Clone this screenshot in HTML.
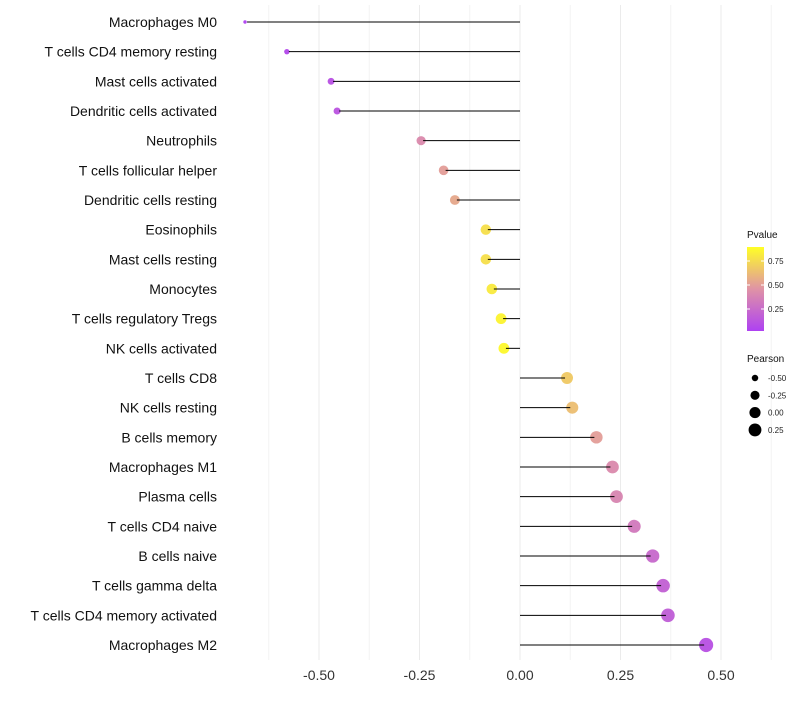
<!DOCTYPE html>
<html><head><meta charset="utf-8"><style>
body{margin:0;background:#fff;font-family:"Liberation Sans",sans-serif}
svg text{font-family:"Liberation Sans",sans-serif}
</style></head><body>
<svg id="c" width="800" height="700"></svg>
<script>
const categories=["Macrophages M0","T cells CD4 memory resting","Mast cells activated","Dendritic cells activated","Neutrophils","T cells follicular helper","Dendritic cells resting","Eosinophils","Mast cells resting","Monocytes","T cells regulatory  Tregs ","NK cells activated","T cells CD8","NK cells resting","B cells memory","Macrophages M1","Plasma cells","T cells CD4 naive","B cells naive","T cells gamma delta","T cells CD4 memory activated","Macrophages M2"];
const pearson=[-0.684,-0.58,-0.47,-0.455,-0.246,-0.19,-0.162,-0.085,-0.085,-0.07,-0.047,-0.04,0.117,0.13,0.19,0.23,0.24,0.284,0.33,0.356,0.368,0.463];
const pvalue=[0.01,0.05,0.1,0.12,0.45,0.55,0.6,0.85,0.85,0.9,0.95,0.97,0.75,0.7,0.55,0.45,0.42,0.35,0.25,0.2,0.18,0.1];
const xTicks=[-0.5,-0.25,0,0.25,0.5];
const xTickLabels=["-0.50","-0.25","0.00","0.25","0.50"];
const colorTicks=[0.25,0.5,0.75];
const sizeLegend=[-0.5,-0.25,0,0.25];
const sizeLegendLabels=["-0.50","-0.25","0.00","0.25"];

const svg=document.getElementById('c');const NS="http://www.w3.org/2000/svg";
function el(t,a,p){const e=document.createElementNS(NS,t);for(const k in a)e.setAttribute(k,a[k]);(p||svg).appendChild(e);return e;}
const X=v=>520+v*402;
const Y=i=>22+i*(623/21);
const R=p=>Math.sqrt(Math.max(0.5,31+41*p));
function lerp(a,b,t){return a.map((x,i)=>Math.round(x+(b[i]-x)*t));}
function col(p){const s0=[160,32,240],s1=[218,128,150],s2=[255,255,0];const c=p<0.5?lerp(s0,s1,p/0.5):lerp(s1,s2,(p-0.5)/0.5);return `rgb(${c})`;}
for(let v=-0.625;v<=0.625;v+=0.125){const g=el('line',{x1:X(v),x2:X(v),y1:5,y2:660,stroke:Math.abs(v*4-Math.round(v*4))<1e-6?'#ebebeb':'#f4f4f4','stroke-width':1});
}
xTicks.forEach((v,i)=>{const t=el('text',{x:X(v),y:680,'text-anchor':'middle','font-size':14,fill:'#333'});t.textContent=xTickLabels[i];
});
categories.forEach((c,i)=>{const y=Y(i);
const t=el('text',{x:217,y:y+5,'text-anchor':'end','font-size':14,fill:'#111'});t.textContent=c;

const d=el('circle',{cx:X(pearson[i]),cy:y,r:R(pearson[i]),fill:col(pvalue[i]),'fill-opacity':0.82});

const l=el('line',{x1:X(0),x2:X(pearson[i])+(pearson[i]<0?2:-2),y1:y,y2:y,stroke:'#000','stroke-width':1});
});
let t=el('text',{x:747,y:238,'font-size':10,fill:'#111'});t.textContent='Pvalue';

const defs=el('defs',{});const lg=el('linearGradient',{id:'g',x1:0,y1:1,x2:0,y2:0},defs);
[[0,0],[0.5,0.5],[1,1]].forEach(s=>el('stop',{offset:s[0],'stop-color':col(s[1])},lg));
const cb=el('rect',{x:747,y:247,width:17,height:84,fill:'url(#g)','fill-opacity':0.85});

const CY=v=>333-v*96;
colorTicks.forEach(v=>{el('line',{x1:747,x2:750,y1:CY(v),y2:CY(v),stroke:'#fff'});el('line',{x1:761,x2:764,y1:CY(v),y2:CY(v),stroke:'#fff'});
const tt=el('text',{x:768,y:CY(v)+3,'font-size':8,fill:'#222'});tt.textContent=v.toFixed(2);
});
t=el('text',{x:747,y:362,'font-size':10,fill:'#111'});t.textContent='Pearson';

sizeLegend.forEach((v,i)=>{const y=378+i*17.3;const c=el('circle',{cx:755,cy:y,r:R(v),fill:'#000'});

const tt=el('text',{x:768,y:y+3,'font-size':8,fill:'#222'});tt.textContent=sizeLegendLabels[i];
});
</script></body></html>
